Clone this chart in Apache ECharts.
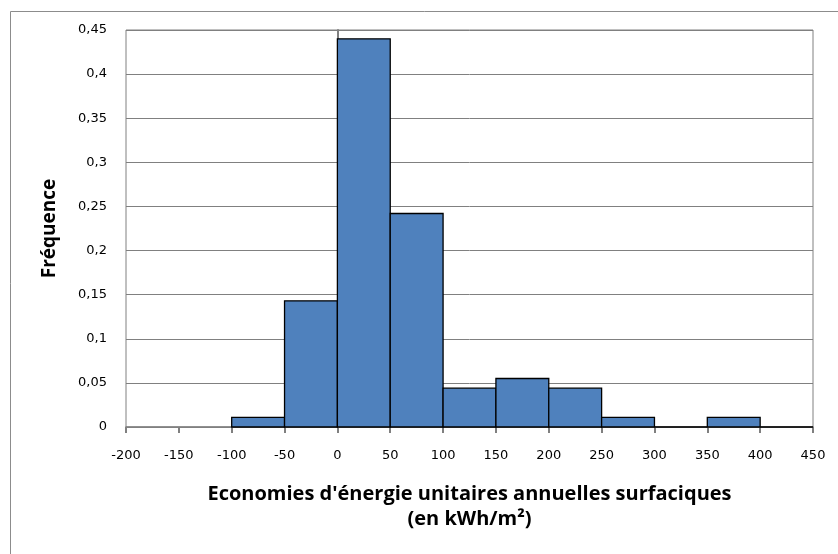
<!DOCTYPE html>
<html>
<head>
<meta charset="utf-8">
<script src="https://cdn.jsdelivr.net/npm/echarts@6/dist/echarts.min.js"></script>
<style>html,body{margin:0;padding:0;background:#fff;}#c{width:838px;height:554px;}</style>
</head>
<body>
<div id="c"></div>
<script>
// Histogram bins (kWh/m²) and relative frequencies
const binStarts = [-100, -50, 0, 50, 100, 150, 200, 250, 300, 350, 400];
const binEnds   = [-50, 0, 50, 100, 150, 200, 250, 300, 350, 400, 450];
const frequencies = [0.011, 0.143, 0.44, 0.242, 0.044, 0.055, 0.044, 0.011, 0, 0.011, 0];
const xAxisRange = [-200, 450, 50];   // min, max, interval
const yAxisRange = [0, 0.45, 0.05];   // min, max, interval
const xTitle = "Economies d'énergie unitaires annuelles surfaciques\n(en kWh/m²)";
const yTitle = "Fréquence";

const data = binStarts.map((s, i) => [s, binEnds[i], frequencies[i]]);

const chart = echarts.init(document.getElementById('c'), null, {renderer: 'canvas'});
chart.setOption({
  backgroundColor: '#fff',
  animation: false,
  graphic: [{
    type: 'rect', silent: true, z: -1,
    shape: {x: 10.5, y: 11.5, width: 900, height: 700},
    style: {fill: 'none', stroke: '#8c8c8c', lineWidth: 1}
  }],
  grid: {left: 126, right: 25, top: 30, bottom: 127, show: true, borderColor: '#808080', borderWidth: 1, backgroundColor: 'transparent'},
  xAxis: {
    type: 'value', min: xAxisRange[0], max: xAxisRange[1], interval: xAxisRange[2],
    name: xTitle, nameLocation: 'middle', nameGap: 55,
    nameTextStyle: {fontFamily: 'Open Sans', fontWeight: 'bold', fontSize: 20, color: '#000', lineHeight: 25},
    axisLine: {show: true, onZero: false, lineStyle: {color: '#808080', width: 1.5}},
    axisTick: {show: true, length: 6, lineStyle: {color: '#808080', width: 2}},
    axisLabel: {margin: 22, fontFamily: 'DejaVu Sans', fontSize: 13, color: '#000'},
    splitLine: {show: false}
  },
  yAxis: {
    type: 'value', min: yAxisRange[0], max: yAxisRange[1], interval: yAxisRange[2],
    name: yTitle, nameLocation: 'middle', nameGap: 67, nameRotate: 90,
    nameTextStyle: {fontFamily: 'Open Sans', fontWeight: 'bold', fontSize: 19, color: '#000'},
    axisLine: {show: true, lineStyle: {color: '#808080', width: 2}},
    axisTick: {show: true, length: 8, lineStyle: {color: '#808080', width: 1}},
    axisLabel: {margin: 19, fontFamily: 'DejaVu Sans', fontSize: 13, color: '#000',
      formatter: v => String(Math.round(v * 100) / 100).replace('.', ',')},
    splitLine: {show: true, lineStyle: {color: '#808080', width: 1}}
  },
  series: [{
    type: 'custom',
    data: data,
    encode: {x: [0, 1], y: 2},
    renderItem: function (params, api) {
      const p0 = api.coord([api.value(0), api.value(2)]);
      const p1 = api.coord([api.value(1), 0]);
      return {
        type: 'rect',
        shape: {x: p0[0], y: p0[1], width: p1[0] - p0[0], height: p1[1] - p0[1]},
        style: {fill: '#4F81BD', stroke: '#000', lineWidth: 1.3}
      };
    }
  }]
});
</script>
</body>
</html>
